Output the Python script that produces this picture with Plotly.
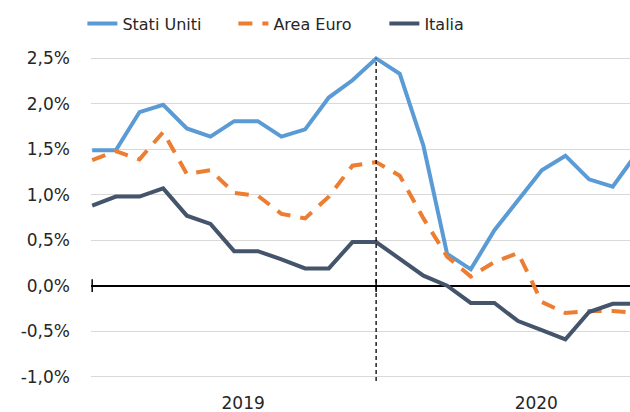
import plotly.graph_objects as go

months = ["gen 2019", "feb 2019", "mar 2019", "apr 2019", "mag 2019", "giu 2019",
          "lug 2019", "ago 2019", "set 2019", "ott 2019", "nov 2019", "dic 2019",
          "gen 2020", "feb 2020", "mar 2020", "apr 2020", "mag 2020", "giu 2020",
          "lug 2020", "ago 2020", "set 2020", "ott 2020", "nov 2020", "dic 2020"]
stati_uniti = [1.49, 1.49, 1.91, 1.99, 1.73, 1.64, 1.81, 1.81, 1.64, 1.72, 2.07, 2.26,
               2.50, 2.33, 1.54, 0.35, 0.18, 0.61, 0.94, 1.27, 1.43, 1.17, 1.09, 1.45]
area_euro = [1.38, 1.48, 1.39, 1.69, 1.23, 1.27, 1.02, 0.99, 0.79, 0.74, 0.98, 1.32,
             1.36, 1.21, 0.74, 0.32, 0.10, 0.26, 0.36, -0.18, -0.30, -0.28, -0.28, -0.30]
italia = [0.88, 0.98, 0.98, 1.07, 0.77, 0.68, 0.38, 0.38, 0.29, 0.19, 0.19, 0.48,
          0.48, 0.29, 0.11, 0.00, -0.19, -0.19, -0.39, -0.49, -0.59, -0.29, -0.20, -0.20]
y_ticks = [-1.0, -0.5, 0.0, 0.5, 1.0, 1.5, 2.0, 2.5]
y_tick_labels = ["-1,0%", "-0,5%", "0,0%", "0,5%", "1,0%", "1,5%", "2,0%", "2,5%"]
year_labels = ["2019", "2020"]
year_label_pos = [6.38, 18.77]
marker_month = "gen 2020"

x = list(range(len(months)))
FONT = "DejaVu Sans"

fig = go.Figure()
fig.add_trace(go.Scatter(x=x, y=stati_uniti, name="Stati Uniti", mode="lines",
                         line=dict(color="#5B9BD5", width=4), customdata=months))
fig.add_trace(go.Scatter(x=x, y=area_euro, name="Area Euro", mode="lines",
                         line=dict(color="#ED7D31", width=4, dash="14px,10px"), customdata=months))
fig.add_trace(go.Scatter(x=x, y=italia, name="Italia", mode="lines",
                         line=dict(color="#44546A", width=4), customdata=months))

xm = months.index(marker_month)
# dashed vertical marker
fig.add_shape(type="line", x0=xm, x1=xm, y0=-1.05, y1=2.5, xref="x", yref="y",
              line=dict(color="black", width=1.3, dash="4px,3px"), layer="above")
# axis tick marks on zero line
for xv in [0, xm]:
    fig.add_shape(type="line", x0=xv, x1=xv, y0=-0.07, y1=0.07, xref="x", yref="y",
                  line=dict(color="black", width=1.5), layer="above")

fig.update_layout(
    width=630, height=412,
    margin=dict(l=90.8, r=0, t=52.5, b=29.5, autoexpand=False),
    paper_bgcolor="white", plot_bgcolor="white",
    font=dict(family=FONT, size=17, color="#262626"),
    showlegend=True,
    legend=dict(orientation="h", x=-0.016, xanchor="left", y=1.089, yanchor="middle",
                font=dict(size=16, color="#262626"), entrywidth=106,
                bgcolor="rgba(0,0,0,0)"),
    xaxis=dict(range=[-0.05, 22.73], showgrid=False, zeroline=False, showline=False,
               tickmode="array", tickvals=year_label_pos, ticktext=year_labels,
               ticks="", ticklabelstandoff=9, automargin=False, fixedrange=True),
    yaxis=dict(range=[-1.06, 2.56], showgrid=True, gridcolor="#d9d9d9", gridwidth=1,
               zeroline=True, zerolinecolor="black", zerolinewidth=1.5,
               tickmode="array", tickvals=y_ticks, ticktext=y_tick_labels,
               ticks="", ticklabelstandoff=20, showline=False, automargin=False,
               fixedrange=True),
)

fig.write_html("out.html", config={"displayModeBar": False},
               post_script="document.body.style.margin='0';document.body.style.overflow='hidden';")
